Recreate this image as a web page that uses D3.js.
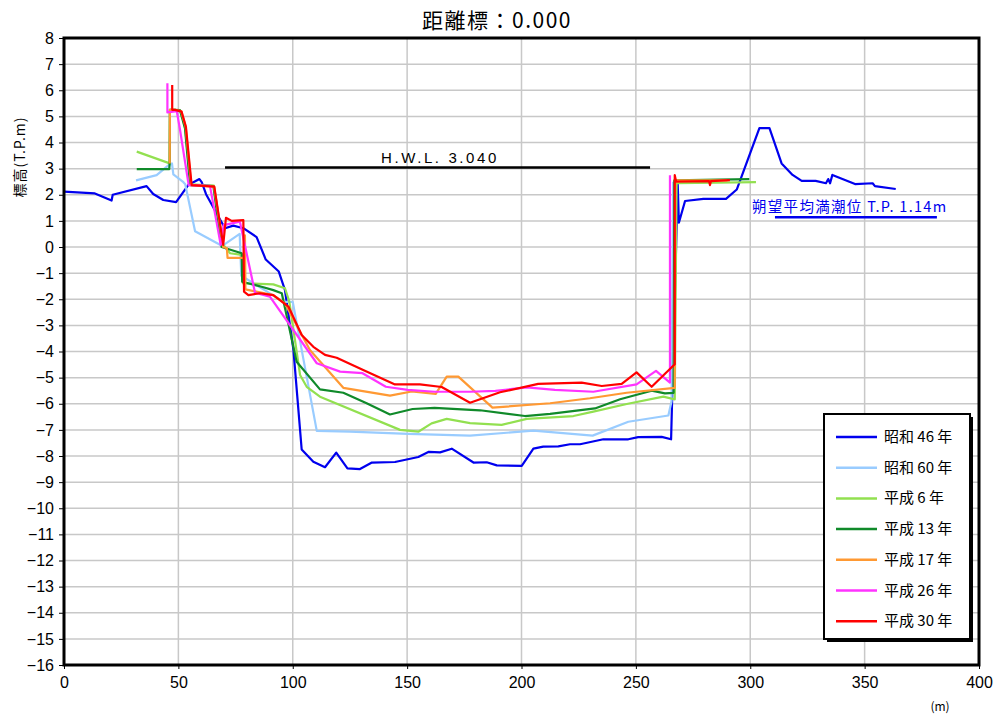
<!DOCTYPE html>
<html><head><meta charset="utf-8">
<script src="https://cdn.jsdelivr.net/npm/d3@7/dist/d3.min.js"></script>
<style>
body{margin:0;background:#fff;}
svg text{font-family:"Liberation Sans Narrow","Noto Sans CJK JP",sans-serif;}
.jp{font-family:"Noto Sans CJK JP",sans-serif;}
</style></head><body>
<svg id="c" width="997" height="715"></svg>
<script>
// ---- data ----
const title = "距離標：0.000";
const yLabel = "標高(T.P.m)";
const xUnit = "(m)";
const xTicks = [0,50,100,150,200,250,300,350,400];
const yTicks = d3.range(-16, 9, 1);
const seriesNames = ["昭和 46 年","昭和 60 年","平成 6 年","平成 13 年","平成 17 年","平成 26 年","平成 30 年"];
const seriesColors = ["#0000ee","#99ccff","#92e050","#108a2a","#ff9933","#ff33ff","#ff0000"];

const s1971 = [[0,2.12],[13.5,2.05],[20.8,1.78],[21.3,2.0],[36.1,2.33],[39,2.03],[43.4,1.8],[49,1.72],[54.3,2.37],[59.2,2.6],[60.2,2.48],[62.1,2.02],[67.9,1.1],[70.4,0.72],[74,0.82],[78.4,0.72],[84.2,0.38],[88.2,-0.48],[93.9,-0.94],[96.6,-1.65],[100.3,-3.94],[103.9,-7.75],[109,-8.22],[114.1,-8.43],[119,-7.87],[123.9,-8.47],[129.4,-8.5],[134.6,-8.25],[144.7,-8.23],[154.9,-8.04],[159.5,-7.84],[164.4,-7.86],[169.5,-7.72],[179,-8.25],[184.8,-8.24],[189.2,-8.36],[200.1,-8.38],[205.2,-7.72],[209.5,-7.64],[216.1,-7.63],[221.2,-7.55],[225.6,-7.55],[235.8,-7.36],[246.7,-7.36],[251,-7.28],[261.3,-7.27],[265.4,-7.36],[268.3,2.4],[268.8,0.93],[271.5,1.76],[279.5,1.84],[289.4,1.84],[294.1,2.2],[304,4.55],[308.4,4.55],[313.7,3.2],[318.5,2.76],[322.5,2.53],[328.6,2.53],[333.1,2.44],[334.1,2.6],[334.9,2.44],[335.9,2.76],[345.8,2.41],[353.5,2.44],[354.5,2.33],[363.6,2.22]];
const s1985 = [[31.5,2.55],[40.5,2.75],[46,3.15],[47.2,3.2],[47.8,2.78],[52.2,2.48],[53,2.4],[57.3,0.6],[69.2,0.04],[76.8,0.5],[77.5,-1.1],[88.6,-1.7],[95.9,-2.1],[100,-2.1],[110.5,-7.04],[125,-7.07],[150.5,-7.15],[177.5,-7.22],[205.2,-7.03],[231.1,-7.22],[246.7,-6.69],[264.2,-6.45],[265.6,-5.9],[266.3,2.5]];
const s1994 = [[31.8,3.65],[46.2,3.2],[46.3,5.25],[48.5,5.25],[51,5.2],[53,4.55],[55.3,2.4],[65.5,2.35],[69.5,0.1],[72.6,-0.24],[77.7,-0.3],[78.2,-1.39],[91.5,-1.43],[96.6,-1.58],[98.5,-2.09],[103.2,-4.9],[106.1,-5.35],[111.9,-5.73],[146.9,-7.0],[154.9,-7.07],[160.7,-6.75],[167.3,-6.58],[177.5,-6.74],[191.3,-6.81],[202.3,-6.58],[222.7,-6.47],[231.4,-6.3],[246,-6.01],[262,-5.73],[267,-5.83],[267.8,2.44],[302.5,2.48]];
const s2001 = [[31.8,2.98],[46,2.98],[46.2,3.2],[46.3,5.25],[48.5,5.25],[50.7,5.24],[52.9,4.54],[55.1,2.37],[65.3,2.33],[68.9,0.0],[77.7,-0.24],[77.9,-1.33],[86.4,-1.52],[91.5,-1.65],[95.2,-1.77],[101.7,-4.39],[111.9,-5.45],[122.1,-5.58],[132.3,-5.98],[142.5,-6.41],[152.4,-6.2],[162,-6.16],[181.9,-6.25],[201.5,-6.47],[212.5,-6.39],[232.1,-6.18],[243.1,-5.83],[256.9,-5.5],[262.7,-5.6],[266.5,-5.58],[266.8,2.55],[299.6,2.6]];
const s2005 = [[46.2,3.2],[46.3,5.25],[48.5,5.25],[51.2,5.2],[53.2,4.6],[55.6,2.37],[65.6,2.31],[69.6,0.0],[71.2,-0.05],[71.5,-0.42],[79.1,-0.42],[79.1,0.45],[79.3,-1.62],[91.5,-1.84],[96.6,-2.16],[107.5,-3.94],[122.1,-5.39],[142.5,-5.69],[152,-5.53],[162.5,-5.62],[167.3,-4.96],[172.4,-4.96],[187.3,-6.15],[212.5,-5.98],[229.9,-5.79],[246,-5.58],[267,-5.39],[267.2,2.55],[290,2.55]];
const s2014 = [[45.2,6.27],[45.2,5.15],[49.3,5.2],[50.7,4.5],[54.5,2.37],[63.8,2.34],[68.5,0.08],[69.8,0.84],[76.9,0.97],[83.5,-1.75],[90,-1.9],[110.5,-4.45],[120.7,-4.77],[130.5,-4.83],[140.7,-5.35],[150.2,-5.47],[162,-5.54],[177.5,-5.54],[188.6,-5.51],[202.3,-5.37],[214.6,-5.47],[231.4,-5.54],[250.3,-5.26],[258.8,-4.74],[264.9,-5.19],[264.9,2.75]];
const s2018 = [[47.3,6.2],[47.3,5.25],[48.5,5.25],[51.4,5.18],[53.3,4.6],[55.8,2.37],[65.7,2.31],[69.6,0.08],[70.8,1.12],[73.3,1.0],[78.4,1.03],[78.7,-1.71],[80.6,-1.84],[85.7,-1.77],[91.5,-1.84],[98.1,-2.28],[103.9,-3.37],[109,-3.82],[114.1,-4.13],[119.2,-4.24],[130.8,-4.71],[144.7,-5.26],[155.6,-5.26],[165.1,-5.36],[177.5,-5.96],[190.6,-5.56],[207.3,-5.24],[226.3,-5.19],[235.1,-5.32],[243.8,-5.24],[250.3,-4.8],[256.9,-5.35],[267,-4.49],[267,2.75],[267.6,2.5],[282,2.52],[282.4,2.37],[282.8,2.52],[291.1,2.56]];
const series = [s1971,s1985,s1994,s2001,s2005,s2014,s2018];

const hwlLevel = 3.04, hwlRange = [70.4,256.2], hwlText = "H.W.L. 3.040";
const tideLevel = 1.14, tideRange = [310.8,381.6], tideText = "朔望平均満潮位 T.P. 1.14m";

// ---- layout ----
const L=64, R=979, T=38, B=665;
const svg = d3.select("#c");
const x = d3.scaleLinear().domain([0,400]).range([L,R]);
const y = d3.scaleLinear().domain([-16,8]).range([B,T]);
const numFont = "'Liberation Sans Narrow','Arial Narrow',sans-serif";

// grid
svg.append("g").selectAll("line").data(yTicks.filter(d=>d>-16&&d<8)).join("line")
  .attr("x1",L).attr("x2",R).attr("y1",d=>y(d)).attr("y2",d=>y(d))
  .attr("stroke","#c8c8c8").attr("stroke-width",1.5);
svg.append("g").selectAll("line").data(xTicks.filter(d=>d>0&&d<400)).join("line")
  .attr("y1",T).attr("y2",B).attr("x1",d=>x(d)).attr("x2",d=>x(d))
  .attr("stroke","#c8c8c8").attr("stroke-width",1.5);

// axes
const yAxis = d3.axisLeft(y).tickValues(yTicks).tickSize(5).tickPadding(5).tickFormat(d3.format("d"));
const gy = svg.append("g").attr("transform",`translate(${L},0)`).call(yAxis);
gy.select(".domain").remove();
gy.selectAll("text").attr("font-size",16).attr("fill","#000").style("font-family",numFont);
const xAxis = d3.axisBottom(x).tickValues(xTicks).tickSize(4).tickPadding(8);
const gx = svg.append("g").attr("transform",`translate(0,${B})`).call(xAxis);
gx.select(".domain").remove();
gx.selectAll("text").attr("font-size",16).attr("fill","#000").style("font-family",numFont);

// reference lines
svg.append("line").attr("x1",x(hwlRange[0])).attr("x2",x(hwlRange[1])).attr("y1",y(hwlLevel)).attr("y2",y(hwlLevel))
  .attr("stroke","#000").attr("stroke-width",2.5);
svg.append("text").attr("x",440).attr("y",y(hwlLevel)-5).attr("text-anchor","middle")
  .attr("font-size",15).attr("letter-spacing",2.6).style("font-family",numFont).text(hwlText);
svg.append("line").attr("x1",x(tideRange[0])).attr("x2",x(tideRange[1])).attr("y1",y(tideLevel)).attr("y2",y(tideLevel))
  .attr("stroke","#0000ee").attr("stroke-width",2.5);
svg.append("text").attr("class","jp").attr("x",752).attr("y",y(tideLevel)-5)
  .attr("font-size",14.5).attr("letter-spacing",1.3).attr("fill","#0000ee").text(tideText);

// series
const line = d3.line().x(d=>x(d[0])).y(d=>y(d[1]));
svg.append("g").selectAll("path").data(series).join("path")
  .attr("d",line).attr("fill","none").attr("stroke",(d,i)=>seriesColors[i])
  .attr("stroke-width",2.2).attr("stroke-linejoin","round");

// frame
svg.append("rect").attr("x",L).attr("y",T).attr("width",R-L).attr("height",B-T)
  .attr("fill","none").attr("stroke","#000").attr("stroke-width",3);

// titles
svg.append("text").attr("class","jp").attr("x",497).attr("y",28).attr("text-anchor","middle")
  .attr("font-size",21).attr("letter-spacing",1.5).text(title);
svg.append("text").attr("class","jp").attr("transform","translate(25,157) rotate(-90)").attr("text-anchor","middle")
  .attr("font-size",14).attr("letter-spacing",1).text(yLabel);
svg.append("text").attr("class","jp").attr("x",940).attr("y",711).attr("text-anchor","middle")
  .attr("font-size",12).text(xUnit);

// legend
const lg = svg.append("g");
const lx=824, ly=414, lw=146, lh=225;
lg.append("rect").attr("x",lx+3).attr("y",ly+3).attr("width",lw).attr("height",lh).attr("fill","#000");
lg.append("rect").attr("x",lx).attr("y",ly).attr("width",lw).attr("height",lh).attr("fill","#fff").attr("stroke","#000").attr("stroke-width",2);
const rows = lg.selectAll("g.r").data(seriesNames).join("g").attr("class","r")
  .attr("transform",(d,i)=>`translate(0,${437+i*30.7})`);
rows.append("line").attr("x1",836).attr("x2",877).attr("stroke",(d,i)=>seriesColors[i]).attr("stroke-width",2.5);
rows.append("text").attr("class","jp").attr("x",884).attr("y",5).attr("font-size",15).text(d=>d);
</script>
</body></html>
